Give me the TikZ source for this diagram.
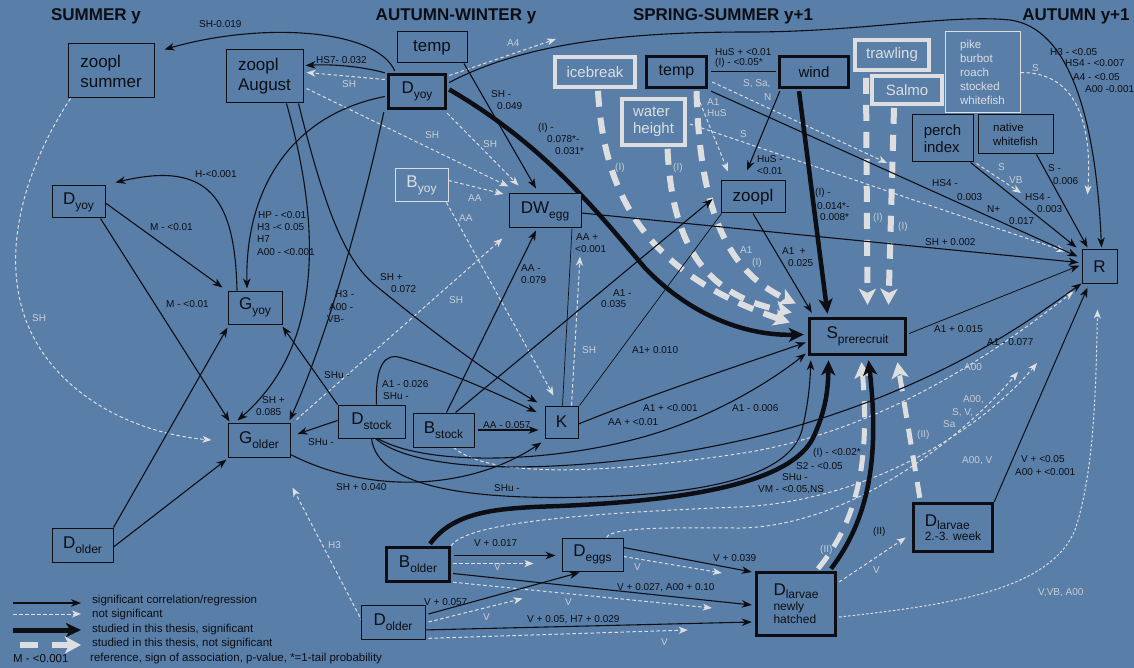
\documentclass[tikz,border=0pt]{standalone}
\usepackage{fontspec}
\setmainfont{Liberation Sans}
\usetikzlibrary{arrows.meta,calc}
\pgfdeclarelayer{back}
\pgfdeclarelayer{edges}
\pgfsetlayers{back,edges,main}
\definecolor{bgc}{RGB}{89,126,168}
\definecolor{dk}{RGB}{12,14,20}
\definecolor{lt}{RGB}{220,222,224}
\definecolor{ltx}{RGB}{200,205,212}
\newcommand\myfs[2]{\fontsize{#1}{#2}\selectfont}
\newcommand\sbs[1]{\raisebox{-5pt}{\myfs{12}{14}#1}}
\newcommand\sbl[1]{\raisebox{-3pt}{\myfs{12}{14}#1}}
\newcounter{lbc}
\newcommand\lb[3][tlab]{\stepcounter{lbc}\node[#1] (lb\arabic{lbc}) at (#2) {#3};}
\begin{document}
\begin{tikzpicture}[x=1pt,y=-1pt,
 nbox/.style={draw=dk, line width=1pt, fill=bgc, inner sep=0pt, align=center, font=\myfs{17}{20}, text=dk},
 tkbox/.style={nbox, line width=3.4pt},
 ltbox/.style={nbox, draw=lt, text=lt, line width=3.6pt, font=\myfs{15}{17}},
 ltthin/.style={nbox, draw=lt, text=lt, line width=1pt},
 esig/.style={draw=dk, line width=1.1pt, -{Stealth[length=10pt,width=7.5pt,inset=3pt]}},
 ens/.style={draw=lt, line width=1pt, dash pattern=on 3.5pt off 2.5pt, -{Stealth[length=9pt,width=7pt,inset=2.5pt]}},
 ethk/.style={draw=dk, line width=4.5pt, -{Stealth[length=15pt,width=14pt,inset=4pt]}},
 etns/.style={draw=lt, line width=6pt, dash pattern=on 16pt off 11pt, -{Stealth[length=16pt,width=17pt,inset=4pt]}},
 ethin/.style={draw=dk, line width=0.7pt},
 tlab/.style={font=\myfs{10}{12}, text=dk, inner sep=0pt, anchor=west},
 tllab/.style={tlab, text=ltx},
 hdr/.style={font=\myfs{17}{20}\bfseries, text=dk, inner sep=0pt},
 leg/.style={font=\myfs{11.5}{14}, text=dk, inner sep=0pt, anchor=west}]
\useasboundingbox (0,0) rectangle (1134,668);
\begin{pgfonlayer}{back}
\fill[bgc] (0,0) rectangle (1134,668);
\end{pgfonlayer}

% headers
\node[hdr] (h1) at (96,16) {SUMMER y};
\node[hdr] (h2) at (456,16) {AUTUMN-WINTER y};
\node[hdr] (h3) at (723,16) {SPRING-SUMMER y+1};
\node[hdr] (h4) at (1076,16) {AUTUMN y+1};

% nodes
\node[nbox, align=left, minimum width=86pt, minimum height=54pt] (zooplS) at (111,71) {zoopl\\summer};
\node[nbox, align=left, minimum width=77pt, minimum height=53pt] (zooplA) at (264.5,76.5) {zoopl\\August};
\node[nbox, minimum width=70pt, minimum height=31pt] (temp1) at (432,47.5) {temp};
\node[tkbox, minimum width=57pt, minimum height=34pt] (Dyoy1) at (417,91.5) {D\sbs{yoy}};
\node[ltthin, minimum width=53pt, minimum height=33pt] (Byoy) at (421.5,185.5) {B\sbs{yoy}};
\node[nbox, minimum width=72pt, minimum height=34pt] (DWegg) at (545,211) {DW\sbs{egg}};
\node[nbox, minimum width=53pt, minimum height=32pt] (DyoyS) at (78.5,202) {D\sbs{yoy}};
\node[nbox, minimum width=54pt, minimum height=33pt] (Gyoy) at (255,307.5) {G\sbs{yoy}};
\node[nbox, minimum width=62pt, minimum height=34pt] (Golder) at (259,440) {G\sbs{older}};
\node[nbox, minimum width=67pt, minimum height=33pt] (Dstock) at (371.5,421.5) {D\sbs{stock}};
\node[nbox, minimum width=61pt, minimum height=34pt] (Bstock) at (443.5,430) {B\sbs{stock}};
\node[nbox, minimum width=33pt, minimum height=32pt] (K) at (561.5,422) {K};
\node[nbox, minimum width=61pt, minimum height=34pt] (DolderL) at (82.5,545) {D\sbs{older}};
\node[tkbox, minimum width=63pt, minimum height=34pt] (Bolder) at (418,564.5) {B\sbs{older}};
\node[nbox, minimum width=61pt, minimum height=33pt] (Deggs) at (592.5,554.5) {D\sbs{eggs}};
\node[nbox, minimum width=64pt, minimum height=34pt] (Dolder2) at (393,622) {D\sbs{older}};
\node[tkbox, align=left, font=\myfs{12}{13.5}, minimum width=79pt, minimum height=63pt] (DlarvNH) at (796,604) {{\myfs{17}{20}D}\sbl{larvae}\\[1pt]newly\\hatched};
\node[tkbox, align=left, font=\myfs{12}{13.5}, minimum width=79pt, minimum height=48pt] (Dlarv23) at (953,527.5) {{\myfs{17}{20}D}\sbl{larvae}\\[1pt]2.-3. week};
\node[tkbox, minimum width=96pt, minimum height=36pt] (S) at (857.5,336.5) {S\sbs{prerecruit}};
\node[nbox, minimum width=35pt, minimum height=33pt] (R) at (1099.5,266.5) {R};
\node[nbox, minimum width=64pt, minimum height=32pt] (zooplB) at (753,197) {zoopl};
\node[ltbox, minimum width=80pt, minimum height=30pt] (icebreak) at (595,72) {icebreak};
\node[tkbox, font=\myfs{16}{18}, minimum width=60pt, minimum height=31pt] (temp2) at (676.5,72) {temp};
\node[ltbox, align=left, minimum width=63pt, minimum height=46pt] (waterh) at (653.5,122) {water\\height};
\node[tkbox, font=\myfs{15}{17}, minimum width=69pt, minimum height=31pt] (wind) at (814,72) {wind};
\node[ltbox, minimum width=74pt, minimum height=30pt] (trawl) at (892,55) {trawling};
\node[ltbox, minimum width=70pt, minimum height=28pt] (salmo) at (907,90) {Salmo};
\node[ltthin, align=left, font=\myfs{11.5}{14}, minimum width=75pt, minimum height=81pt] (pike) at (982.5,72.5) {pike\\burbot\\roach\\stocked\\whitefish};
\node[nbox, align=left, font=\myfs{15}{17}, minimum width=61pt, minimum height=47pt] (perch) at (942.5,138.5) {perch\\index};
\node[nbox, align=left, font=\myfs{11.5}{13.5}, minimum width=75pt, minimum height=39pt] (native) at (1015.5,134.5) {native\\whitefish};

\coordinate (a4end) at (556,39);
\coordinate (ssan) at (887,163);
\coordinate (svb) at (1021,193);
\coordinate (bvend) at (1037,363);
\coordinate (dvend) at (1018,372);

\begin{pgfonlayer}{edges}
% thick dashed light (studied, not significant)
\draw[etns] ($(icebreak.south)+(3,2)$) .. controls (604,200) and (650,275) .. ($(S.west)+(-18,-14)$);
\draw[etns] ($(waterh.south)+(14,2)$) .. controls (672,245) and (705,295) .. ($(S.west)+(-16,-24)$);
\draw[etns] ($(temp2.south)+(20,2)$) .. controls (700,225) and (735,275) .. ($(S.west)+(-12,-33)$);
\draw[etns] ($(trawl.south)+(-26,6)$) -- ($(S.north)+(10,-12)$);
\draw[etns] ($(salmo.south)+(-13,2)$) -- ($(S.north)+(31,-12)$);
\draw[etns, line width=5pt] ($(DlarvNH.north)+(22,-2)$) .. controls (858,520) and (870,460) .. ($(S.south)+(4,6)$);
\draw[etns, line width=5pt] ($(Dlarv23.north west)+(8,-4)$) -- ($(S.south)+(40,6)$);

% not significant thin dashed
\draw[ens] ($(Dyoy1.west)+(-2,-12)$) -- ($(zooplA.east)+(3,-4)$);
\draw[ens] ($(zooplA.east)+(3,12)$) -- ($(DWegg.north west)+(0,-7)$);
\draw[ens] ($(Dyoy1.south east)+(0,3)$) -- ($(DWegg.north west)+(10,-8)$);
\draw[ens] ($(Dyoy1.east)+(2,-16)$) -- (a4end);
\draw[ens] ($(Byoy.east)+(0,-5)$) -- ($(DWegg.west)+(-5,-17)$);
\draw[ens] ($(Byoy.south east)+(-2,0)$) -- ($(K.north)+(-8,-10)$);
\draw[ens] ($(K.north)+(10,0)$) -- ($(DWegg.south)+(35,28)$);
\draw[ens] ($(Bstock.south)+(10,0)$) .. controls (490,478) and (600,475) .. (750,452) .. controls (900,425) and (1010,340) .. ($(R.south west)+(-8,8)$);
\draw[ens] ($(Golder.north east)+(6,-3)$) -- ($(DWegg.south west)+(-6,10)$);
\draw[ens] ($(zooplS.south west)+(3,0)$) .. controls (30,160) and (8,230) .. (18,290) .. controls (32,380) and (120,432) .. ($(Golder.west)+(-16,0)$);
\draw[ens] ($(Dolder2.west)+(2,0)$) -- ($(Golder.south east)+(2,30)$);
\draw[ens] ($(DlarvNH.east)+(2,-22)$) -- ($(Dlarv23.west)+(-6,10)$);
\draw[ens, dash pattern=on 2.5pt off 2pt] ($(DlarvNH.east)+(2,13)$) .. controls (950,605) and (1050,590) .. (1075,530) .. controls (1095,470) and (1096,380) .. ($(R.south)+(-2,26)$);
\draw[ens] (Bolder.north east) .. controls (465,525) and (560,514) .. (740,507) .. controls (880,500) and (990,420) .. (bvend);
\draw[ens] ($(Deggs.north)+(14,0)$) .. controls (612,526) and (680,528) .. (740,528) .. controls (850,526) and (960,440) .. (dvend);
\draw[ens] ($(Bolder.east)+(2,-1)$) -- ($(Deggs.west)+(-28,9)$);
\draw[ens] ($(Deggs.east)+(0,2)$) -- ($(DlarvNH.west)+(-33,-31)$);
\draw[ens] ($(Bolder.south east)+(2,-1)$) -- ($(DlarvNH.west)+(-43,4)$);
\draw[ens] ($(Dolder2.east)+(3,0)$) -- ($(Deggs.south)+(-70,27)$);
\draw[ens] ($(Dolder2.south east)+(-3,-1)$) -- ($(DlarvNH.west)+(-67,26)$);
\draw[ens] ($(temp2.south)+(19,2)$) -- ($(zooplB.north)+(-25,-9)$);
\draw[ens] ($(temp2.east)+(4,10)$) -- (ssan);
\draw[ens] ($(waterh.east)+(3,2)$) -- ($(R.west)+(-16,-15)$);
\draw[ens] ($(perch.south east)+(3,1)$) -- (svb);
\draw[ens] (pike.east) .. controls (1080,72) and (1092,130) .. ($(R.north)+(-12,-55)$);

% significant thin
\draw[esig] ($(Dyoy1.north west)+(8,-2)$) .. controls (375,28) and (260,22) .. ($(zooplS.north east)+(10,6)$);
\draw[esig] ($(Dyoy1.north west)+(-2,0)$) .. controls (360,66) and (330,64) .. ($(zooplA.east)+(2,-11)$);
\draw[esig] ($(temp1.south)+(32,0)$) -- ($(DWegg.north)+(-9,-5)$);
\draw[esig] ($(Dyoy1.east)+(2,-9)$) .. controls (530,40) and (640,32) .. (750,32) .. controls (860,32) and (950,14) .. (1010,20) .. controls (1070,28) and (1096,120) .. ($(R.north)+(2,-2)$);
\draw[esig] ($(Dyoy1.west)+(-2,5)$) .. controls (290,115) and (245,190) .. ($(Gyoy.north)+(-8,-2)$);
\draw[esig] ($(Gyoy.north)+(-18,0)$) .. controls (235,200) and (210,160) .. ($(DyoyS.north east)+(10,-3)$);
\draw[esig] ($(DyoyS.east)+(0,1)$) -- ($(Gyoy.north west)+(-5,-3)$);
\draw[esig] ($(DyoyS.south east)+(-5,0)$) -- ($(Golder.north west)+(2,-1)$);
\draw[esig] (DolderL.north east) -- ($(Gyoy.south west)+(0,3)$);
\draw[esig] ($(DolderL.east)+(0,2)$) -- ($(Golder.south west)+(-1,2)$);
\draw[esig] ($(zooplA.south)+(22,0)$) .. controls (325,240) and (318,350) .. ($(Golder.north west)+(10,-2)$);
\draw[esig] ($(zooplA.south)+(34,0)$) .. controls (325,210) and (345,260) .. (375,285) .. controls (430,330) and (490,375) .. ($(K.north west)+(-7,-3)$);
\draw[esig] ($(Dyoy1.south west)+(-3,2)$) .. controls (365,200) and (330,330) .. ($(Golder.north east)+(-1,-2)$);
\draw[esig] (Dstock.north west) -- ($(Gyoy.south east)+(0,2)$);
\draw[esig] ($(Dstock.west)+(0,-1)$) -- ($(Golder.east)+(7,-6)$);
\draw[esig] ($(Dstock.north)+(5,0)$) .. controls (375,365) and (385,352) .. (402,358) .. controls (450,372) and (500,395) .. ($(K.west)+(-8,-10)$);
\draw[esig] ($(Bstock.north)+(3,0)$) -- ($(DWegg.south)+(-9,2)$);
\draw[esig] ($(Bstock.north)+(12,0)$) -- ($(zooplB.west)+(-8,2)$);
\draw[esig] ($(Bstock.east)+(3,0)$) -- ($(K.west)+(-6,8)$);
\draw[ethin] ($(K.north)+(1,0)$) -- ($(DWegg.south)+(27,0)$);
\draw[ethin] ($(K.north east)+(1,0)$) -- ($(zooplB.south west)+(1,0)$);
\draw[esig] ($(K.east)+(0,2)$) .. controls (650,395) and (740,365) .. ($(S.west)+(-2,6)$);
\draw[esig] ($(Dstock.south east)+(-28,0)$) .. controls (430,468) and (560,462) .. (650,435) .. controls (720,414) and (775,378) .. ($(S.west)+(-2,17)$);
\draw[esig] ($(Dstock.south east)+(-30,0)$) .. controls (430,485) and (650,470) .. (800,425) .. controls (950,380) and (1030,320) .. (R.south west);
\draw[esig] (Dstock.south) .. controls (378,490) and (480,500) .. (590,497) .. controls (710,494) and (790,475) .. (802,430) .. controls (808,405) and (810,385) .. ($(S.south west)+(3,4)$);
\draw[esig] ($(Golder.south east)+(0,-3)$) .. controls (370,495) and (470,490) .. ($(K.south west)+(-3,4)$);
\draw[esig, line width=1pt] (Dlarv23.north east) -- ($(R.south)+(-12,4)$);
\draw[esig] ($(Bolder.east)+(3,-9)$) -- ($(Deggs.west)+(-6,1)$);
\draw[esig] ($(Deggs.east)+(0,-7)$) -- ($(DlarvNH.west)+(-3,-32)$);
\draw[esig] ($(Bolder.east)+(2,9)$) -- ($(DlarvNH.west)+(-3,1)$);
\draw[esig] ($(Dolder2.east)+(3,-8)$) -- ($(Deggs.south)+(-13,1)$);
\draw[esig] ($(Dolder2.east)+(-3,8)$) -- ($(DlarvNH.west)+(-3,18)$);
\draw[dk, line width=1pt] ($(temp2.east)+(3,0)$) -- ($(wind.west)+(-2,0)$);
\draw[esig] ($(wind.south west)+(2,2)$) -- ($(zooplB.north)+(-6,-10)$);
\draw[esig] ($(temp2.south east)+(3,2)$) -- ($(R.west)+(-4,-10)$);
\draw[esig] (zooplB.south) -- ($(S.north west)+(4,-4)$);
\draw[esig] ($(DWegg.east)+(0,2)$) -- ($(R.west)+(-3,-4)$);
\draw[esig, line width=0.8pt] ($(S.east)+(2,-3)$) -- ($(R.west)+(-2,-1)$);
\draw[esig] ($(perch.south east)+(-3,0)$) -- ($(R.north west)+(-5,-2)$);
\draw[esig] ($(native.south)+(21,0)$) -- ($(R.north)+(-12,-2)$);

% thick studied significant
\draw[ethk] ($(Dyoy1.east)+(2,-2)$) .. controls (545,145) and (600,215) .. (645,268) .. controls (690,315) and (745,336) .. ($(S.west)+(-4,-2)$);
\draw[ethk] ($(wind.south)+(-15,2)$) -- ($(S.north)+(-30,-3)$);
\draw[ethk] ($(Bolder.north)+(12,-2)$) .. controls (455,510) and (500,508) .. (560,506) .. controls (700,500) and (792,480) .. (813,438) .. controls (826,410) and (828,390) .. ($(S.south)+(-29,4)$);
\draw[ethk] ($(DlarvNH.north)+(35,-2)$) .. controls (868,520) and (880,460) .. ($(S.south)+(11,4)$);
\end{pgfonlayer}

% labels
\lb{199,24}{SH-0.019}
\lb{316,60}{HS7- 0.032}
\lb[tllab]{342,84}{SH}
\lb[tllab]{425,135}{SH}
\lb[tllab]{483,144}{SH}
\lb{491,94}{SH -}
\lb{497,106}{0.049}
\lb{538,128}{(I) -}
\lb{547,139}{0.078*-}
\lb{555,151}{0.031*}
\lb[tllab]{507,43}{A4}
\lb[tllab]{468,198}{AA}
\lb[tllab]{459,218}{AA}
\lb{258,215}{HP - <0.01}
\lb{257,227}{H3 -< 0.05}
\lb{257,239}{H7}
\lb{257,252}{A00 - <0.001}
\lb{195,174}{H-<0.001}
\lb{150,227}{M - <0.01}
\lb{166,304}{M - <0.01}
\lb[tllab]{32,318}{SH}
\lb{262,400}{SH +}
\lb{256,412}{0.085}
\lb{335,294}{H3 -}
\lb{329,307}{A00 -}
\lb{327,319}{VB-}
\lb{324,375}{SHu -}
\lb{308,442}{SHu -}
\lb{382,384}{A1 - 0.026}
\lb{383,396}{SHu -}
\lb{336,487}{SH + 0.040}
\lb{380,277}{SH +}
\lb{391,289}{0.072}
\lb[tllab]{449,300}{SH}
\lb{521,268}{AA -}
\lb{521,280}{0.079}
\lb{576,237}{AA +}
\lb{575,249}{<0.001}
\lb{613,293}{A1 -}
\lb{601,304}{0.035}
\lb[tllab]{582,350}{SH}
\lb{632,350}{A1+ 0.010}
\lb{483,425}{AA - 0.057}
\lb{643,408}{A1 + <0.001}
\lb{608,422}{AA + <0.01}
\lb{732,408}{A1 - 0.006}
\lb{494,488}{SHu -}
\lb{813,453}{(I) - <0.02*}
\lb{796,466}{S2 - <0.05}
\lb{782,477}{SHu -}
\lb{758,490}{VM - <0.05,NS}
\lb[tllab]{962,461}{A00, V}
\lb{1021,459}{V + <0.05}
\lb{1015,472}{A00 + <0.001}
\lb{873,532}{(II)}
\lb[tllab]{820,550}{(II)}
\lb[tllab]{873,570}{V}
\lb[tllab]{1038,593}{V,VB, A00}
\lb[tllab]{917,435}{(II)}
\lb[tllab]{964,367}{A00}
\lb[tllab]{963,400}{A00,}
\lb[tllab]{952,413}{S, V,}
\lb[tllab]{943,424}{Sa}
\lb{934,329}{A1 + 0.015}
\lb{987,342}{A1 - 0.077}
\lb{925,242}{SH + 0.002}
\lb{782,251}{A1\ \ +}
\lb{788,263}{0.025}
\lb{815,193}{(I) -}
\lb{817,206}{0.014*-}
\lb{820,217}{0.008*}
\lb{757,159}{HuS -}
\lb{757,171}{<0.01}
\lb[tllab]{707,102}{A1}
\lb[tllab]{707,113}{HuS}
\lb[tllab]{743,84}{S, Sa,}
\lb[tllab]{764,97}{N}
\lb[tllab]{740,134}{S}
\lb{715,52}{HuS + <0.01}
\lb{715,63}{(I) - <0.05*}
\lb[tllab]{615,168}{(I)}
\lb[tllab]{673,168}{(I)}
\lb[tllab]{740,250}{A1}
\lb[tllab]{752,263}{(I)}
\lb[tllab]{873,218}{(I)}
\lb[tllab]{898,227}{(I)}
\lb{932,183}{HS4 -}
\lb{957,197}{0.003}
\lb{987,209}{N+}
\lb{1009,221}{0.017}
\lb{1025,197}{HS4 -}
\lb{1037,209}{0.003}
\lb[tllab]{998,167}{S}
\lb[tllab]{1009,180}{VB}
\lb{1048,168}{S -}
\lb{1053,181}{0.006}
\lb[tllab]{1032,68}{S}
\lb{1050,52}{H3 - <0.05}
\lb{1065,63}{HS4 - <0.007}
\lb{1073,77}{A4 - <0.05}
\lb{1085,89}{A00 -0.001}
\lb{474,543}{V + 0.017}
\lb[tllab]{494,567}{V}
\lb{713,558}{V + 0.039}
\lb[tllab]{634,567}{V}
\lb{617,588}{V + 0.027, A00 + 0.10}
\lb[tllab]{565,602}{V}
\lb{424,602}{V + 0.057}
\lb[tllab]{483,617}{V}
\lb{527,620}{V + 0.05, H7 + 0.029}
\lb[tllab]{661,642}{V}
\lb[tllab]{328,545}{H3}

% legend
\coordinate (lga) at (13,603); \coordinate (lgb) at (81,603);
\coordinate (lgc) at (13,614); \coordinate (lgd) at (81,614);
\coordinate (lge) at (13,630); \coordinate (lgf) at (81,630);
\coordinate (lgg) at (20,645); \coordinate (lgh) at (81,645);
\draw[esig] (lga) -- (lgb);
\draw[ens] (lgc) -- (lgd);
\draw[ethk, line width=5pt] (lge) -- (lgf);
\draw[etns, dash pattern=on 18pt off 14pt] (lgg) -- (lgh);
\node[leg] (lt1) at (92,601) {significant correlation/regression};
\node[leg] (lt2) at (92,615) {not significant};
\node[leg] (lt3) at (92,630) {studied in this thesis, significant};
\node[leg] (lt4) at (92,644) {studied in this thesis, not significant};
\node[leg] (lt5) at (13,659) {M - <0.001};
\node[leg] (lt6) at (90,659) {reference, sign of association, p-value, *=1-tail probability};
\end{tikzpicture}
\end{document}
